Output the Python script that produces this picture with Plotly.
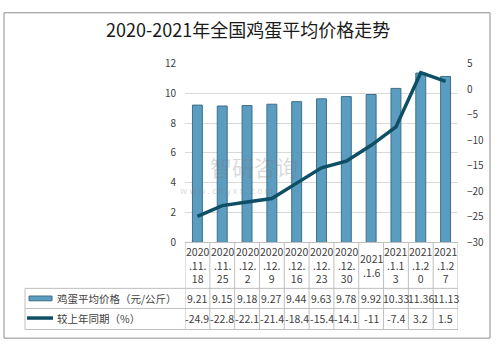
import plotly.graph_objects as go

cat_labels = ["2020<br>.11.<br>18", "2020<br>.11.<br>25", "2020<br>.12.<br>2", "2020<br>.12.<br>9",
              "2020<br>.12.<br>16", "2020<br>.12.<br>23", "2020<br>.12.<br>30", "2021<br>.1.6",
              "2021<br>.1.1<br>3", "2021<br>.1.2<br>0", "2021<br>.1.2<br>7"]
price = [9.21, 9.15, 9.18, 9.27, 9.44, 9.63, 9.78, 9.92, 10.33, 11.36, 11.13]
yoy = [-24.9, -22.8, -22.1, -21.4, -18.4, -15.4, -14.1, -11, -7.4, 3.2, 1.5]
price_txt = ["9.21", "9.15", "9.18", "9.27", "9.44", "9.63", "9.78", "9.92", "10.33", "11.36", "11.13"]
yoy_txt = ["-24.9", "-22.8", "-22.1", "-21.4", "-18.4", "-15.4", "-14.1", "-11", "-7.4", "3.2", "1.5"]
series_names = ["鸡蛋平均价格（元/公斤）", "较上年同期（%）"]
title = "2020-2021年全国鸡蛋平均价格走势"

W, H = 496, 348
def px(x): return x / W
def py(y): return 1 - y / H

FONT = "Noto Sans CJK SC"
BAR_COLOR = "#5b9dc0"
BAR_LINE = "#3e6e88"
LINE_COLOR = "#0f4f66"
TXT = "#404040"
GRID = "#d9d9d9"
TBL = "#bfbfbf"

xs = list(range(len(price)))

fig = go.Figure()
fig.add_trace(go.Bar(x=xs, y=price, width=0.4, marker=dict(color=BAR_COLOR, line=dict(color=BAR_LINE, width=1)),
                     name=series_names[0], yaxis="y"))
fig.add_trace(go.Scatter(x=xs, y=yoy, mode="lines", line=dict(color=LINE_COLOR, width=3.5),
                         name=series_names[1], yaxis="y2"))

x0, x1 = 185, 458
ytop, ybot = 58, 245
fig.update_layout(
    width=W, height=H, margin=dict(l=0, r=0, t=0, b=0),
    paper_bgcolor="white", plot_bgcolor="white", showlegend=False,
    font=dict(family=FONT, size=10, color=TXT),
    xaxis=dict(domain=[px(x0), px(x1)], range=[-0.5, len(xs) - 0.5], showticklabels=False,
               showgrid=False, zeroline=False, showline=True, linecolor=TBL, linewidth=1, ticks=""),
    yaxis=dict(domain=[py(ybot), py(ytop)], range=[0, 12], dtick=2, showgrid=True, gridcolor=GRID,
               zeroline=False, showline=False, ticks="", tickfont=dict(size=10, color=TXT), ticklabelstandoff=8),
    yaxis2=dict(overlaying="y", side="right", range=[-30, 5], dtick=5, showgrid=False, zeroline=False,
                showline=False, ticks="", tickfont=dict(size=10, color=TXT), ticklabelstandoff=8),
)

shapes = []
# outer frame
shapes.append(dict(type="rect", xref="paper", yref="paper", x0=px(4), x1=px(490), y0=py(345), y1=py(5),
                   line=dict(color="#8c8c8c", width=1)))
# table horizontal lines
for yy, xl in [(293, 25), (314, 25), (336, 25)]:
    shapes.append(dict(type="line", xref="paper", yref="paper", x0=px(xl), x1=px(x1), y0=py(yy), y1=py(yy),
                       line=dict(color=TBL, width=1)))
# table vertical lines
for i in range(len(xs) + 1):
    shapes.append(dict(type="line", xref="x", yref="paper", x0=i - 0.5, x1=i - 0.5, y0=py(336), y1=py(ybot),
                       line=dict(color=TBL, width=1)))
shapes.append(dict(type="line", xref="paper", yref="paper", x0=px(25), x1=px(25), y0=py(336), y1=py(293),
                   line=dict(color=TBL, width=1)))
# legend swatches
shapes.append(dict(type="rect", xref="paper", yref="paper", x0=px(29), x1=px(52), y0=py(306), y1=py(301),
                   fillcolor=BAR_COLOR, line=dict(color=BAR_LINE, width=1)))
shapes.append(dict(type="line", xref="paper", yref="paper", x0=px(27), x1=px(53), y0=py(324), y1=py(324),
                   line=dict(color=LINE_COLOR, width=3.5)))

ann = []
ann.append(dict(text=title, xref="paper", yref="paper", x=0.5, y=py(22), showarrow=False,
                font=dict(size=18, color="#1a1a1a", family=FONT), xanchor="center", yanchor="middle"))
for i in xs:
    ann.append(dict(text=cat_labels[i], xref="x", yref="paper", x=i, y=py(269), showarrow=False,
                    font=dict(size=10.5, color=TXT), align="center", yanchor="middle"))
    ann.append(dict(text=price_txt[i], xref="x", yref="paper", x=i, y=py(303.5), showarrow=False,
                    font=dict(size=10.5, color=TXT), yanchor="middle"))
    ann.append(dict(text=yoy_txt[i], xref="x", yref="paper", x=i, y=py(325), showarrow=False,
                    font=dict(size=10.5, color=TXT), yanchor="middle"))
ann.append(dict(text=series_names[0], xref="paper", yref="paper", x=px(55), y=py(303.5), showarrow=False,
                xanchor="left", yanchor="middle", font=dict(size=10.5, color=TXT)))
ann.append(dict(text=series_names[1], xref="paper", yref="paper", x=px(55), y=py(325), showarrow=False,
                xanchor="left", yanchor="middle", font=dict(size=10.5, color=TXT)))
# watermark
ann.append(dict(text="智研咨询", xref="paper", yref="paper", x=px(208), y=py(165), showarrow=False,
                xanchor="left", yanchor="middle", font=dict(size=22, color="rgba(120,120,120,0.28)")))
ann.append(dict(text="w w w . c h y x x . c o m", xref="paper", yref="paper", x=px(178), y=py(191), showarrow=False,
                xanchor="left", yanchor="middle", font=dict(size=9, color="rgba(120,120,120,0.3)")))

fig.update_layout(shapes=shapes, annotations=ann)
fig.write_html("out.html")
